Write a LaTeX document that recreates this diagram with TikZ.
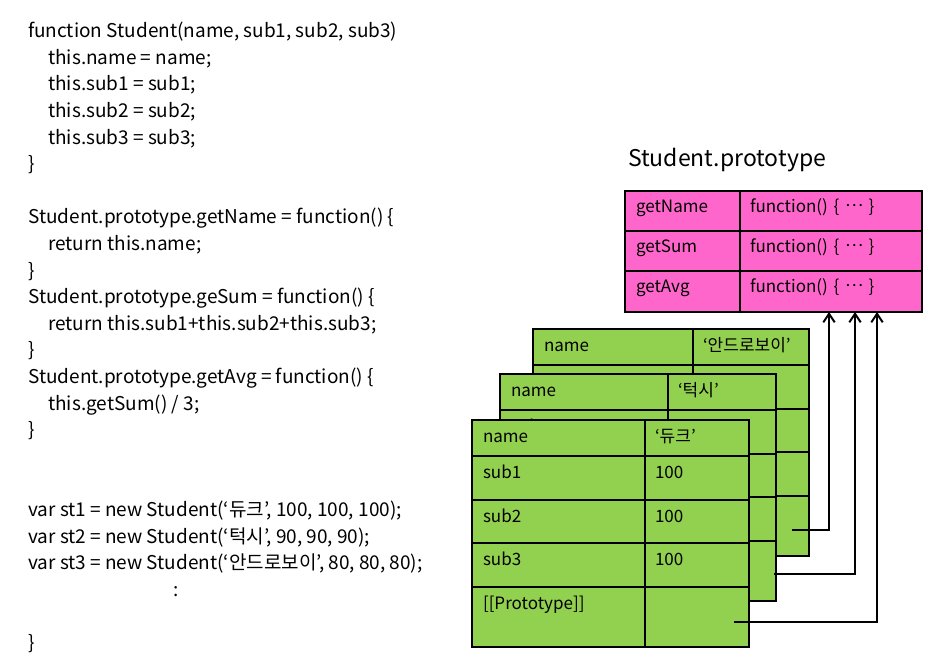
\documentclass[tikz,border=0pt]{standalone}
\usepackage{fontspec}
\setmainfont{Noto Sans CJK KR}
\usetikzlibrary{positioning,arrows.meta}
\definecolor{cellgreen}{HTML}{92D050}
\definecolor{protopink}{HTML}{FF66CC}
\newcommand{\midots}{\raisebox{0.3em}{…}}
\tikzset{
  cell/.style     = {draw, line width=2.4pt, outer sep=0pt, inner xsep=11pt, inner ysep=4pt,
                     align=left, text height=18pt, font=\fontsize{17}{20}\selectfont},
  keycell/.style  = {cell, fill=cellgreen},
  valcell/.style  = {cell, fill=cellgreen, inner xsep=10pt},
  pkey/.style     = {cell, fill=protopink, text height=17pt, text width=93pt},
  pval/.style     = {cell, fill=protopink, text height=17pt, text width=162pt, inner xsep=10pt},
  link/.style     = {-{Straight Barb[length=3mm, width=4mm, line width=2pt]}, line width=2.2pt},
  codetext/.style = {align=left, inner sep=0pt, font=\fontsize{19}{26.6}\selectfont},
  titre/.style    = {inner sep=0pt, font=\fontsize{23}{26}\selectfont}
}
% #1 prefix, #2 x, #3 y, #4 key text width, #5 value text width, #6 name, #7 score
\newcommand{\studenttable}[7]{%
  \node[keycell, text width=#4, text depth=10pt, anchor=north west] (#1n) at (#2,#3) {name};
  \node[valcell, text width=#5, text depth=10pt, right=0pt of #1n] (#1nv) {#6};
  \node[keycell, text width=#4, text depth=18pt, below=0pt of #1n] (#1a) {sub1};
  \node[valcell, text width=#5, text depth=18pt, right=0pt of #1a] (#1av) {#7};
  \node[keycell, text width=#4, text depth=17pt, below=0pt of #1a] (#1b) {sub2};
  \node[valcell, text width=#5, text depth=17pt, right=0pt of #1b] (#1bv) {#7};
  \node[keycell, text width=#4, text depth=18pt, below=0pt of #1b] (#1c) {sub3};
  \node[valcell, text width=#5, text depth=18pt, right=0pt of #1c] (#1cv) {#7};
  \node[keycell, text width=#4, text depth=34pt, below=0pt of #1c] (#1p) {[[Prototype]]};
  \node[valcell, text width=#5, text depth=34pt, right=0pt of #1p] (#1pv) {};
}

\begin{document}
\begin{tikzpicture}[x=1pt, y=-1pt]
    \useasboundingbox (0,0) rectangle (935,666);

    \node[codetext, anchor=north west] (code) at (28,22) {%
      function Student(name, sub1, sub2, sub3)\\
      \hspace*{20pt}this.name = name;\\
      \hspace*{20pt}this.sub1 = sub1;\\
      \hspace*{20pt}this.sub2 = sub2;\\
      \hspace*{20pt}this.sub3 = sub3;\\
      \}\\
      \mbox{}\\
      Student.prototype.getName = function() \{\\
      \hspace*{20pt}return this.name;\\
      \}\\
      Student.prototype.geSum = function() \{\\
      \hspace*{20pt}return this.sub1+this.sub2+this.sub3;\\
      \}\\
      Student.prototype.getAvg = function() \{\\
      \hspace*{20pt}this.getSum() / 3;\\
      \}\\
      \mbox{}\\
      \mbox{}\\
      var st1 = new Student(‘듀크’, 100, 100, 100);\\
      var st2 = new Student(‘턱시’, 90, 90, 90);\\
      var st3 = new Student(‘안드로보이’, 80, 80, 80);\\
      \hspace*{145pt}:\\
      \mbox{}\\
      \}};

    % prototype object
    \node[titre, anchor=base west] (ptitle) at (628,167) {Student.prototype};
    \node[pkey, text depth=15pt, anchor=north west] (gn) at (625,191) {getName};
    \node[pval, text depth=15pt, right=0pt of gn] (gnv) {function() \{ \midots\ \}};
    \node[pkey, text depth=15pt, below=0pt of gn] (gs) {getSum};
    \node[pval, text depth=15pt, right=0pt of gs] (gsv) {function() \{ \midots\ \}};
    \node[pkey, text depth=16pt, below=0pt of gs] (ga) {getAvg};
    \node[pval, text depth=16pt, right=0pt of ga] (gav) {function() \{ \midots\ \}};

    % instances, back to front
    \studenttable{st3}{533}{329}{138pt}{96pt}{‘안드로보이’}{80}
    \studenttable{st2}{500}{374}{146pt}{88pt}{‘턱시’}{90}
    \studenttable{st1}{472}{420}{151pt}{84pt}{‘듀크’}{100}

    \draw[link] ([xshift=-17pt, yshift=-4pt]st3pv.east) -| ([xshift=89pt]gav.south west);
    \draw[link] ([xshift=-2pt, yshift=-3pt]st2pv.east) -| ([xshift=115pt]gav.south west);
    \draw[link] ([xshift=-15pt, yshift=-5pt]st1pv.east) -| ([xshift=137pt]gav.south west);
\end{tikzpicture}
\end{document}
